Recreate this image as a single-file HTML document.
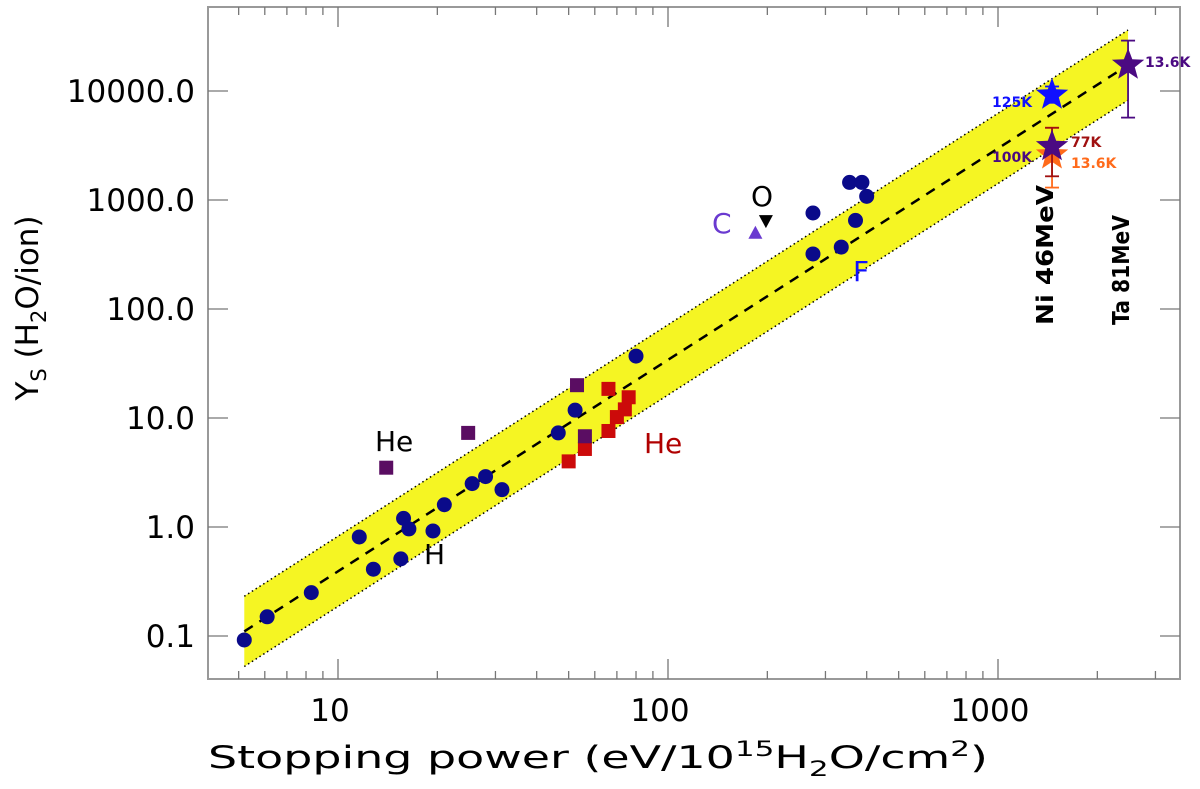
<!DOCTYPE html>
<html><head><meta charset="utf-8"><style>
body{margin:0;background:#fff}
svg{display:block;font-family:"DejaVu Sans","Liberation Sans",sans-serif}
</style></head><body>
<svg id="chart" width="1200" height="789" viewBox="0 0 1200 789" xmlns="http://www.w3.org/2000/svg">
<g id="band-layer"></g>
<g id="axes-layer"></g>
<g id="marks-layer"></g>
<g id="labels-layer"></g>
</svg>
<script>
const circleX=[5.2,6.1,8.3,11.6,12.8,15.5,15.8,16.4,19.4,21,25.5,28,31.4,46.5,52.3,80,275,275,355,387,400,370,335];
const circleY=[0.092,0.15,0.25,0.81,0.41,0.51,1.2,0.96,0.92,1.6,2.5,2.9,2.2,7.3,11.8,37,760,320,1450,1450,1080,650,370];
const purpleSqX=[14.0,24.8,53,56];
const purpleSqY=[3.5,7.3,20,6.8];
const redSqX=[50,56,66,66,70,74,76];
const redSqY=[4.0,5.2,18.5,7.6,10.2,12,15.5];
const triUp={x:184,y:500};
const triDown={x:198,y:640};
const starX=[1458,1458,1458,2478];
const starY=[9200,2600,3100,17300];
const starLo=[7800,1300,1650,5700];
const starHi=[11000,4600,4600,29000];
const starColors=['#1010ff','#ff6a1a','#4b0a82','#4b0a82'];
const fitA=0.0045, fitB=1.94, fitX0=5.2, fitX1=2478;
const yTicks=[0.1,1,10,100,1000,10000];
const yTickLabels=['0.1','1.0','10.0','100.0','1000.0','10000.0'];
const xTicks=[10,100,1000];
const xTickLabels=['10','100','1000'];

const L=208,R=1180,T=7,B=679;
const X=v=>338+330*(Math.log10(v)-1);
const Y=v=>527-109*Math.log10(v);
const NS='http://www.w3.org/2000/svg';
function mk(tag,attrs,parent){const e=document.createElementNS(NS,tag);for(const k in attrs)e.setAttribute(k,attrs[k]);parent.appendChild(e);return e;}
const band=document.getElementById('band-layer'),axes=document.getElementById('axes-layer'),marks=document.getElementById('marks-layer'),labs=document.getElementById('labels-layer');
const f=x=>fitA*Math.pow(x,fitB);
let poly=mk('polygon',{points:`${X(fitX0)},${Y(f(fitX0)*2.1)} ${X(fitX1)},${Y(f(fitX1)*2.1)} ${X(fitX1)},${Y(f(fitX1)/2.1)} ${X(fitX0)},${Y(f(fitX0)/2.1)}`,fill:'#f5f523'},band);


[2.1,1/2.1].forEach((m,i)=>{const l=mk('line',{x1:X(fitX0),y1:Y(f(fitX0)*m),x2:X(fitX1),y2:Y(f(fitX1)*m),stroke:'#000','stroke-width':1.5,'stroke-dasharray':'1.5 3'},band);

});
let fit=mk('line',{x1:X(fitX0),y1:Y(f(fitX0)),x2:X(fitX1),y2:Y(f(fitX1)),stroke:'#000','stroke-width':2.5,'stroke-dasharray':'10 8'},band);


let fr=mk('rect',{x:L,y:T,width:R-L,height:B-T,fill:'none',stroke:'#999','stroke-width':2},axes);


for(let d=0;d<4;d++)for(let k=1;k<10;k++){const v=k*Math.pow(10,d);const x=X(v);if(x<L+2||x>R-2)continue;const len=k==1?20:8;
 mk('line',{x1:x,y1:B,x2:x,y2:B-len,stroke:'#777','stroke-width':1.3},axes);mk('line',{x1:x,y1:T,x2:x,y2:T+len,stroke:'#777','stroke-width':1.3},axes);}
for(let d=-2;d<5;d++){const v=Math.pow(10,d);const y=Y(v);if(y<T||y>B)continue;
 mk('line',{x1:L,y1:y,x2:L+20,y2:y,stroke:'#777','stroke-width':1.3},axes);mk('line',{x1:R,y1:y,x2:R-20,y2:y,stroke:'#777','stroke-width':1.3},axes);}
yTicks.forEach((v,i)=>{const t=mk('text',{x:195,y:Y(v)+11,'text-anchor':'end','font-size':31,fill:'#000'},axes);t.textContent=yTickLabels[i];

});
xTicks.forEach((v,i)=>{const t=mk('text',{x:X(v)-8,y:721,'text-anchor':'middle','font-size':31,fill:'#000'},axes);t.textContent=xTickLabels[i];

});
circleX.forEach((x,i)=>{const c=mk('circle',{cx:X(x),cy:Y(circleY[i]),r:7.5,fill:'#0a0a8a'},marks);

});
function sq(xs,ys,col,name){xs.forEach((x,i)=>{const r=mk('rect',{x:X(x)-7,y:Y(ys[i])-7,width:14,height:14,fill:col},marks);

});}
sq(redSqX,redSqY,'#cc0a0a','data-point-red-square');
sq(purpleSqX,purpleSqY,'#5a0d62','data-point-purple-square');
let tu=mk('polygon',{points:`${X(triUp.x)-7},${Y(triUp.y)+6} ${X(triUp.x)+7},${Y(triUp.y)+6} ${X(triUp.x)},${Y(triUp.y)-7}`,fill:'#6a3ad0'},marks);


let td=mk('polygon',{points:`${X(triDown.x)-7},${Y(triDown.y)-6} ${X(triDown.x)+7},${Y(triDown.y)-6} ${X(triDown.x)},${Y(triDown.y)+7}`,fill:'#000'},marks);


function star(cx,cy,r){let p=[];for(let i=0;i<10;i++){const a=-Math.PI/2+i*Math.PI/5;const rr=i%2?r*0.42:r;p.push((cx+rr*Math.cos(a)).toFixed(1)+','+(cy+rr*Math.sin(a)).toFixed(1));}return p.join(' ');}
const errCols=['#1010ff','#ff6a1a','#a01010','#4b0a82'];
starX.forEach((x,i)=>{const cx=X(x);const g=mk('g',{},marks);


 const c=errCols[i];mk('line',{x1:cx,y1:Y(starLo[i]),x2:cx,y2:Y(starHi[i]),stroke:c,'stroke-width':1.8},g);
 [starLo[i],starHi[i]].forEach(v=>mk('line',{x1:cx-7,y1:Y(v),x2:cx+7,y2:Y(v),stroke:c,'stroke-width':1.8},g));
 mk('polygon',{points:star(cx,Y(starY[i]),17),fill:starColors[i]},g);});
function lab(txt,x,y,size,col,name,extra){const t=mk('text',Object.assign({x:x,y:y,'font-size':size,fill:col},extra||{}),labs);t.textContent=txt;

return t;}
lab('C',712,233,28,'#6a3ad0','label-c');
lab('O',751,206,28,'#000','label-o');
lab('F',853,281,28,'#1010ff','label-f');
lab('He',375,451,28,'#000','label-he-black');
lab('H',424,564,28,'#000','label-h');
lab('He',644,453,28,'#b00000','label-he-red');
const sb={'font-weight':'bold'};
lab('125K',992,107,14,'#1010ff','label-125k',sb);
lab('13.6K',1145,67,14,'#4b0a82','label-ta-13-6k',sb);
lab('77K',1071,147,14,'#a01010','label-77k',sb);
lab('100K',992,162,14,'#4b0a82','label-100k',sb);
lab('13.6K',1071,168,14,'#ff6a1a','label-ni-13-6k',sb);
lab('Ni 46MeV',1053,255,23,'#000','label-ni-46mev',{'text-anchor':'middle',transform:'rotate(-90 1053 255)','font-weight':'bold',textLength:140,lengthAdjust:'spacingAndGlyphs'});
lab('Ta 81MeV',1129,270,23,'#000','label-ta-81mev',{'text-anchor':'middle',transform:'rotate(-90 1129 270)','font-weight':'bold',textLength:110,lengthAdjust:'spacingAndGlyphs'});
const xt=mk('text',{x:598,y:768,'text-anchor':'middle','font-size':31,fill:'#000',textLength:780,lengthAdjust:'spacingAndGlyphs'},labs);
xt.innerHTML='Stopping power (eV/10<tspan dy="-12" font-size="21">15</tspan><tspan dy="12">H</tspan><tspan dy="8" font-size="21">2</tspan><tspan dy="-8">O/cm</tspan><tspan dy="-12" font-size="21">2</tspan><tspan dy="12">)</tspan>';


const yt=mk('text',{x:38,y:308,'text-anchor':'middle','font-size':31,fill:'#000',transform:'rotate(-90 38 308)'},labs);
yt.innerHTML='Y<tspan dy="8" font-size="21">S</tspan><tspan dy="-8"> (H</tspan><tspan dy="8" font-size="21">2</tspan><tspan dy="-8">O/ion)</tspan>';


</script>
</body></html>
